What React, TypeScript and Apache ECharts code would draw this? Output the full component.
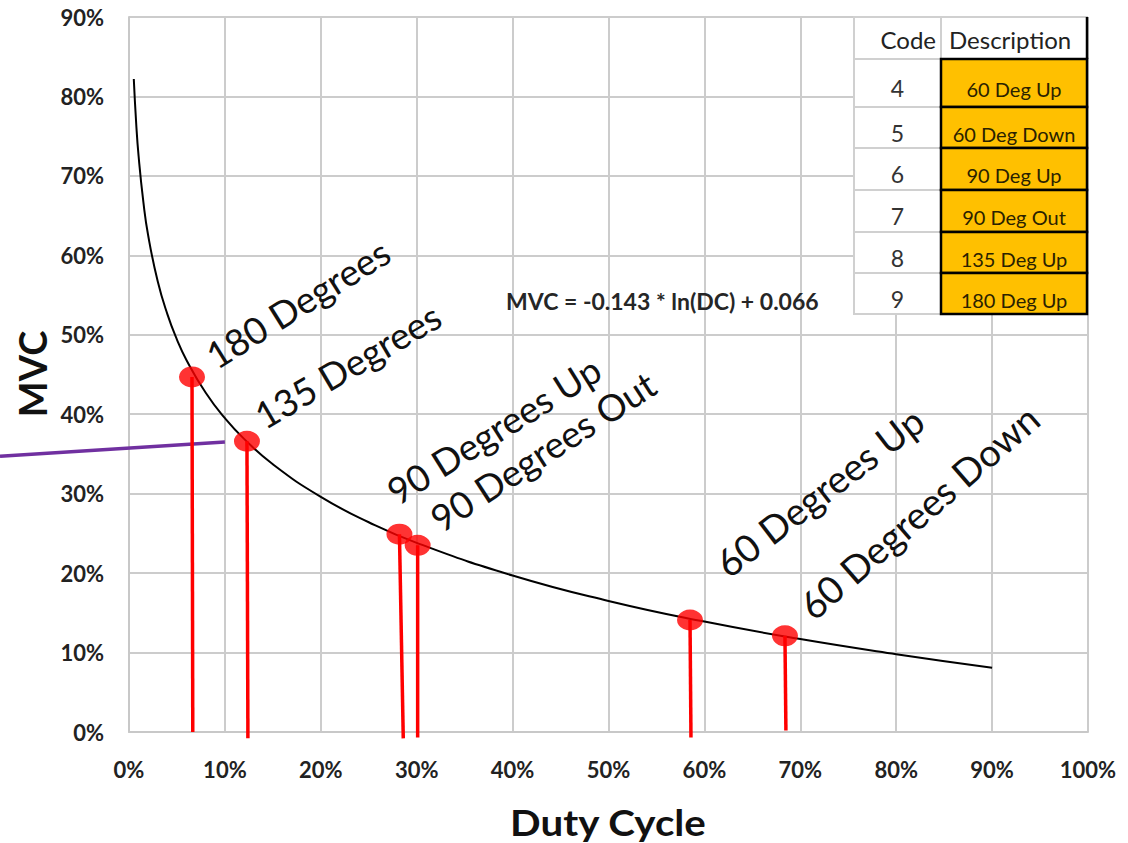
import React, { useEffect, useRef } from "react";
import * as echarts from "echarts";

// ---- data ----
const dutyCycle = [0.005, 0.0075, 0.01, 0.015, 0.02, 0.03, 0.04, 0.05, 0.06, 0.08, 0.1, 0.12, 0.15, 0.2, 0.25, 0.3, 0.4, 0.5, 0.6, 0.7, 0.8, 0.9];
const mvcCurve = [0.822, 0.766, 0.725, 0.667, 0.625, 0.567, 0.526, 0.494, 0.468, 0.427, 0.395, 0.369, 0.337, 0.296, 0.264, 0.238, 0.197, 0.165, 0.139, 0.117, 0.098, 0.081];

const pointNames = ["180 Degrees", "135 Degrees", "90 Degrees Up", "90 Degrees Out", "60 Degrees Up", "60 Degrees Down"];
const pointX = [0.0657, 0.123, 0.282, 0.301, 0.585, 0.684];
const pointY = [0.447, 0.366, 0.249, 0.235, 0.141, 0.121];
const stemBottomX = [0.0665, 0.124, 0.286, 0.301, 0.586, 0.685];
const stemBottomY = [0.0, -0.008, -0.008, -0.007, -0.007, 0.002];

const purpleX = [-0.1345, 0.1];
const purpleY = [0.347, 0.365];

const xTickMax = 1.0;
const yTickMax = 0.9;
const tickStep = 0.1;

const equationText = "MVC = -0.143 * ln(DC) + 0.066";
const xTitle = "Duty Cycle";
const yTitle = "MVC";

const tableHeader = ["Code", "Description"];
const codes = ["4", "5", "6", "7", "8", "9"];
const descriptions = ["60 Deg Up", "60 Deg Down", "90 Deg Up", "90 Deg Out", "135 Deg Up", "180 Deg Up"];

// ---- layout ----
const FONT = "Lato, 'Noto Sans', sans-serif";
const TEXT = "#222222";
const labelPos = [
  { x: 219, y: 374, rot: 32, size: 37 },
  { x: 267, y: 434, rot: 30.5, size: 37 },
  { x: 400, y: 510, rot: 32, size: 37 },
  { x: 444, y: 537, rot: 33, size: 37 },
  { x: 732, y: 583, rot: 37.5, size: 38 },
  { x: 817, y: 625, rot: 41, size: 38 },
];
const colX = [854, 941, 1087];
const rowY = [17, 59, 107, 148, 190, 232, 273, 314];

function buildTable(): any[] {
  const rects: any[] = [];
  const texts: any[] = [];
  const Z = 50;
  rects.push({ type: "rect", z: Z, shape: { x: colX[0], y: rowY[0], width: colX[1] - colX[0], height: rowY[1] - rowY[0] }, style: { fill: "#fff", stroke: "#d0d0d0", lineWidth: 2 } });
  rects.push({ type: "rect", z: Z, shape: { x: colX[1], y: rowY[0], width: colX[2] - colX[1], height: rowY[1] - rowY[0] }, style: { fill: "#fff", stroke: "#d0d0d0", lineWidth: 2 } });
  texts.push({ type: "line", z: Z + 2, shape: { x1: colX[2], y1: rowY[0], x2: colX[2], y2: rowY[1] }, style: { stroke: "#000", lineWidth: 2.5 } });
  texts.push({ type: "text", z: Z + 3, style: { text: tableHeader[0], x: colX[1] - 5, y: (rowY[0] + rowY[1]) / 2 + 1, align: "right", verticalAlign: "middle", fontFamily: FONT, fontSize: 24, fill: TEXT } });
  texts.push({ type: "text", z: Z + 3, style: { text: tableHeader[1], x: colX[1] + 8, y: (rowY[0] + rowY[1]) / 2 + 1, align: "left", verticalAlign: "middle", fontFamily: FONT, fontSize: 24, fill: TEXT } });
  for (let i = 0; i < codes.length; i++) {
    const y0 = rowY[i + 1];
    const y1 = rowY[i + 2];
    rects.push({ type: "rect", z: Z, shape: { x: colX[0], y: y0, width: colX[1] - colX[0], height: y1 - y0 }, style: { fill: "#fff", stroke: "#d0d0d0", lineWidth: 2 } });
    rects.push({ type: "rect", z: Z + 1, shape: { x: colX[1], y: y0, width: colX[2] - colX[1], height: y1 - y0 }, style: { fill: "#FFC000", stroke: "#000", lineWidth: 2.5 } });
    texts.push({ type: "text", z: Z + 3, style: { text: codes[i], x: (colX[0] + colX[1]) / 2, y: (y0 + y1) / 2 + 5, align: "center", verticalAlign: "middle", fontFamily: FONT, fontSize: 23, fill: "#333" } });
    texts.push({ type: "text", z: Z + 3, style: { text: descriptions[i], x: (colX[1] + colX[2]) / 2, y: (y0 + y1) / 2 + 6, align: "center", verticalAlign: "middle", fontFamily: FONT, fontSize: 20, fill: "#2a2200" } });
  }
  return [...rects, ...texts];
}

export default function App() {
  const ref = useRef<HTMLDivElement>(null);
  useEffect(() => {
    document.body.style.margin = "0";
    const chart = echarts.init(ref.current!, undefined, { renderer: "svg" });

    const stems = pointX.map((x, i) => ({
      type: "line",
      data: [[x, pointY[i]], [stemBottomX[i], stemBottomY[i]]],
      showSymbol: false,
      symbol: "none",
      clip: false,
      lineStyle: { color: "#ff0000", width: 3.5 },
      z: 3,
      silent: true,
    }));

    const labelEls = pointNames.map((name, i) => ({
      type: "text",
      x: labelPos[i].x,
      y: labelPos[i].y,
      rotation: (labelPos[i].rot * Math.PI) / 180,
      style: { text: name, x: 0, y: 0, align: "left", verticalAlign: "bottom", fontFamily: FONT, fontSize: labelPos[i].size, fill: "#111" },
      z: 10,
    }));

    const baseGraphic = [
      ...labelEls,
      {
        type: "text",
        style: { text: equationText, x: 506, y: 301, align: "left", verticalAlign: "middle", fontFamily: FONT, fontWeight: "bold", fontSize: 23, fill: "#262626" },
        z: 10,
      },
      {
        type: "text",
        x: 608,
        y: 822,
        scaleX: 1.12,
        style: { text: xTitle, x: 0, y: 0, align: "center", verticalAlign: "middle", fontFamily: FONT, fontWeight: "bold", fontSize: 36, fill: "#111" },
        z: 10,
      },
      {
        type: "text",
        x: 32,
        y: 374,
        rotation: Math.PI / 2,
        style: { text: yTitle, x: 0, y: 0, align: "center", verticalAlign: "middle", fontFamily: FONT, fontWeight: "bold", fontSize: 38, fill: "#111" },
        z: 10,
      },
      ...buildTable(),
    ];

    chart.setOption({
      animation: false,
      backgroundColor: "#ffffff",
      grid: { left: 129, right: 40, top: 17, bottom: 111, containLabel: false },
      xAxis: {
        type: "value",
        min: 0,
        max: xTickMax,
        interval: tickStep,
        axisLine: { show: true, lineStyle: { color: "#c8c8c8", width: 2 } },
        axisTick: { show: false },
        splitLine: { show: true, lineStyle: { color: "#cccccc", width: 2 } },
        axisLabel: { formatter: (v: number) => Math.round(v * 100) + "%", fontFamily: FONT, fontWeight: "bold", fontSize: 22, color: TEXT, margin: 26 },
      },
      yAxis: {
        type: "value",
        min: 0,
        max: yTickMax,
        interval: tickStep,
        axisLine: { show: true, lineStyle: { color: "#c8c8c8", width: 2 } },
        axisTick: { show: false },
        splitLine: { show: true, lineStyle: { color: "#cccccc", width: 2 } },
        axisLabel: { formatter: (v: number) => Math.round(v * 100) + "%", fontFamily: FONT, fontWeight: "bold", fontSize: 22, color: TEXT, margin: 25 },
      },
      series: [
        {
          type: "line",
          data: dutyCycle.map((x, i) => [x, mvcCurve[i]]),
          smooth: 0.5,
          showSymbol: false,
          symbol: "none",
          lineStyle: { color: "#000", width: 2 },
          z: 2,
          silent: true,
        },
        ...stems,
        {
          type: "scatter",
          data: pointX.map((x, i) => [x, pointY[i]]),
          symbol: "circle",
          symbolSize: [26, 21],
          itemStyle: { color: "#ff0000" },
          z: 5,
          silent: true,
        },
      ],
      graphic: baseGraphic,
    });

    // purple annotation line, positioned through the grid's own scales
    const p0 = chart.convertToPixel({ gridIndex: 0 }, [purpleX[0], purpleY[0]]) as number[];
    const p1 = chart.convertToPixel({ gridIndex: 0 }, [purpleX[1], purpleY[1]]) as number[];
    chart.setOption({
      graphic: [
        ...baseGraphic,
        { type: "line", z: 2, shape: { x1: p0[0], y1: p0[1], x2: p1[0], y2: p1[1] }, style: { stroke: "#7030A0", lineWidth: 3.5 } },
      ],
    });

    return () => chart.dispose();
  }, []);
  return <div ref={ref} style={{ width: 1128, height: 843 }} />;
}
